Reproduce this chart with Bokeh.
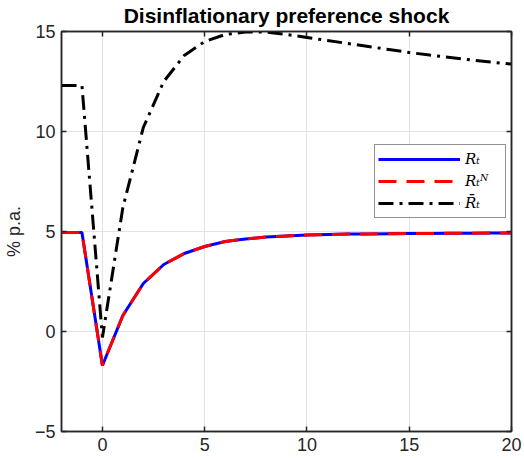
from bokeh.plotting import figure
from bokeh.models import Range1d, FixedTicker, LinearAxis, Legend, LegendItem
from bokeh.embed import file_html
from bokeh.resources import INLINE

# data
periods = list(range(-2, 21))
R = [4.95, 4.95, -1.7, 0.8, 2.4, 3.35, 3.9, 4.25, 4.5, 4.63, 4.72, 4.78, 4.82,
     4.85, 4.87, 4.88, 4.89, 4.9, 4.9, 4.91, 4.91, 4.92, 4.92]
RN = [4.95, 4.95, -1.7, 0.8, 2.4, 3.35, 3.9, 4.25, 4.5, 4.63, 4.72, 4.78, 4.82,
      4.85, 4.87, 4.88, 4.89, 4.9, 4.9, 4.91, 4.91, 4.92, 4.92]
Rbar = [12.3, 12.3, -0.3, 6.2, 10.2, 12.5, 13.8, 14.5, 14.85, 14.97, 14.97, 14.85,
        14.7, 14.55, 14.4, 14.25, 14.1, 13.95, 13.82, 13.7, 13.58, 13.47, 13.37]
x_ticks = [0, 5, 10, 15, 20]
y_ticks = [-5, 0, 5, 10, 15]
title_text = "Disinflationary preference shock"
ylabel = "% p.a."
labels = ["R\u209c", "R\u209c\u1d3a", "R\u0304\u209c"]

AX = "#262626"
FONT = "Liberation Sans"

p = figure(width=524, height=458, x_range=Range1d(-2, 20), y_range=Range1d(-5, 15),
           output_backend="svg", toolbar_location=None,
           min_border_left=60, min_border_right=13, min_border_top=31, min_border_bottom=27)
p.outline_line_color = AX
p.outline_line_width = 1.5

p.title.text = title_text
p.title.align = "center"
p.title.vertical_align = "top"
p.title.text_font = FONT
p.title.text_font_style = "bold"
p.title.text_font_size = "21px"
p.title.text_color = "black"
p.title.standoff = 5

for ax in [p.xaxis[0], p.yaxis[0]]:
    ax.axis_line_color = AX
    ax.axis_line_width = 1.5
    ax.major_tick_line_color = AX
    ax.major_tick_line_width = 1.5
    ax.major_tick_in = 5
    ax.major_tick_out = 0
    ax.minor_tick_line_color = None
    ax.major_label_text_font = FONT
    ax.major_label_text_font_size = "18px"
    ax.major_label_text_color = AX
p.xaxis[0].ticker = FixedTicker(ticks=x_ticks)
p.yaxis[0].ticker = FixedTicker(ticks=y_ticks)
p.xaxis[0].major_label_standoff = 6
p.yaxis[0].major_label_standoff = 6
p.yaxis[0].axis_label = ylabel
p.yaxis[0].axis_label_text_font = FONT
p.yaxis[0].axis_label_text_font_size = "18px"
p.yaxis[0].axis_label_text_font_style = "normal"
p.yaxis[0].axis_label_text_color = AX
p.yaxis[0].axis_label_standoff = 8

for loc, tk in [("above", x_ticks), ("right", y_ticks)]:
    a = LinearAxis(ticker=FixedTicker(ticks=tk))
    a.major_label_overrides = {t: "" for t in tk}
    a.major_label_standoff = 0
    a.major_tick_in = 5
    a.major_tick_out = 0
    a.major_tick_line_color = AX
    a.major_tick_line_width = 1.5
    a.minor_tick_line_color = None
    a.axis_line_color = AX
    a.axis_line_width = 1.5
    p.add_layout(a, loc)

p.xgrid.grid_line_color = "#e3e3e3"
p.ygrid.grid_line_color = "#e3e3e3"
p.xgrid.grid_line_width = 1
p.ygrid.grid_line_width = 1

r1 = p.line(periods, R, line_color="#0000ff", line_width=3)
r2 = p.line(periods, RN, line_color="#ff0000", line_width=3, line_dash="18 10")
r3 = p.line(periods, Rbar, line_color="black", line_width=3, line_dash="15 6 3 6")

legend = Legend(items=[LegendItem(label=labels[0], renderers=[r1]),
                       LegendItem(label=labels[1], renderers=[r2]),
                       LegendItem(label=labels[2], renderers=[r3])],
                location=(313, 213), orientation="vertical")
legend.border_line_color = AX
legend.border_line_width = 1
legend.background_fill_color = "white"
legend.background_fill_alpha = 1
legend.glyph_width = 82
legend.glyph_height = 22
legend.label_height = 22
legend.label_width = 37
legend.label_standoff = 5
legend.padding = 3
legend.spacing = 0
legend.margin = 0
legend.label_text_font = "DejaVu Serif"
legend.label_text_font_style = "italic"
legend.label_text_font_size = "15px"
legend.label_text_color = "black"
p.add_layout(legend, "center")

open("out.html", "w").write(file_html(p, INLINE))
